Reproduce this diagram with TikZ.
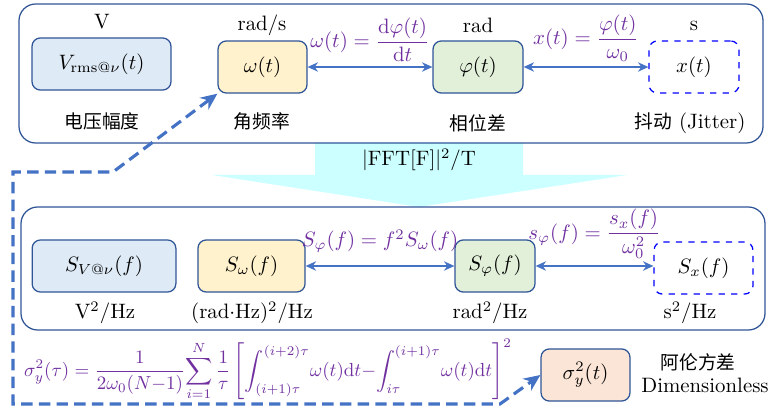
\documentclass[tikz,border=0pt]{standalone}
\usepackage{amsmath}
\usepackage{fontspec}
\newfontfamily\cjk[Scale=0.9]{Noto Sans CJK SC}
\usetikzlibrary{arrows.meta}
\definecolor{frameblue}{RGB}{47,85,151}
\definecolor{arrowblue}{RGB}{68,114,196}
\definecolor{eqpurple}{RGB}{112,48,160}
\definecolor{fillblue}{RGB}{222,235,247}
\definecolor{fillyellow}{RGB}{255,242,204}
\definecolor{fillgreen}{RGB}{226,240,217}
\definecolor{fillpeach}{RGB}{251,229,214}
\definecolor{fftcyan}{RGB}{204,255,255}

\begin{document}
\begin{tikzpicture}[x=0.48pt, y=-0.48pt,
	frame/.style={draw=frameblue, line width=0.6pt, rounded corners=8pt},
	qbox/.style={draw=frameblue, line width=0.6pt, rounded corners=4pt, minimum height=25pt, inner sep=2pt},
	jbox/.style={draw=blue, dashed, line width=0.6pt, rounded corners=4pt, minimum height=25pt, inner sep=2pt},
	link/.style={{Stealth[length=5pt,width=4.5pt]}-{Stealth[length=5pt,width=4.5pt]}, draw=arrowblue, line width=0.8pt},
	eq/.style={text=eqpurple, inner sep=1pt},
	jump/.style={{Stealth[length=8pt,width=7pt]}-{Stealth[length=8pt,width=7pt]}, draw=arrowblue, line width=1.5pt, dash pattern=on 5.5pt off 3pt}]
	
	\useasboundingbox (0,0) rectangle (771,410);
	
	% FFT arrow
	\fill[fftcyan] (315,143) -- (523,143) -- (523,175) -- (627,175) -- (419,207) -- (212,175) -- (315,175) -- cycle;
	\node (fft) at (419,160) {$|\mathrm{FFT[F]}|^2/\mathrm{T}$};
	
	% frames
	\draw[frame] (19,4) rectangle (763,143);
	\draw[frame] (21,207) rectangle (765,330);
	
	% time domain
	\node[qbox, fill=fillblue, minimum width=66.7pt] (vt) at (101.5,64) {$V_{\mathrm{rms}@\nu}(t)$};
	\node[qbox, fill=fillyellow, minimum width=42.7pt] (wt) at (262.5,67) {$\omega(t)$};
	\node[qbox, fill=fillgreen, minimum width=43.2pt] (pt) at (478,67) {$\varphi(t)$};
	\node[jbox, minimum width=43.2pt] (xt) at (694,67) {$x(t)$};
	
	\node (vtu) at (102,22) {V};
	\node (wtu) at (262,25) {rad/s};
	\node (ptu) at (478,25) {rad};
	\node (xtu) at (694,26) {s};
	\node (vtn) at (102,121) {\cjk 电压幅度};
	\node (wtn) at (262,121) {\cjk 角频率};
	\node (ptn) at (478,123) {\cjk 相位差};
	\node (xtn) at (690,123) {{\cjk 抖动} (Jitter)};
	
	\draw[link] (wt) -- (pt) node[midway, above=1pt, eq] {$\omega(t)=\dfrac{\mathrm{d}\varphi(t)}{\mathrm{d}t}$};
	\draw[link] (pt) -- (xt) node[midway, above=1pt, eq] {$x(t)=\dfrac{\varphi(t)}{\omega_0}$};
	
	% frequency domain
	\node[qbox, fill=fillblue, minimum width=69pt] (vf) at (104,266) {$S_{V@\nu}(f)$};
	\node[qbox, fill=fillyellow, minimum width=51.4pt] (wf) at (251.5,266) {$S_\omega(f)$};
	\node[qbox, fill=fillgreen, minimum width=38.4pt] (pf) at (495,266) {$S_\varphi(f)$};
	\node[jbox, minimum width=47.5pt] (xf) at (703.5,268) {$S_x(f)$};
	
	\node (vfu) at (105,313) {V$^2$/Hz};
	\node (wfu) at (252,313) {(rad$\cdot$Hz)$^2$/Hz};
	\node (pfu) at (490,313) {rad$^2$/Hz};
	\node (xfu) at (690,313) {s$^2$/Hz};
	
	\draw[link] (wf) -- (pf) node[midway, above=5pt, eq] {$S_\varphi(f)=f^2S_\omega(f)$};
	\draw[link] (pf.east) -- (xf.west |- pf.east) node[midway, above=2pt, eq] {$s_\varphi(f)=\dfrac{s_x(f)}{\omega_0^2}$};
	
	% Allan variance
	\node[eq, scale=0.91] (allan) at (268,370) {$\displaystyle\sigma_y^2(\tau)=\frac{1}{2\omega_0(N{-}1)}\!\sum_{i=1}^{N}\frac{1}{\tau}\left[\int_{(i+1)\tau}^{(i+2)\tau}\!\omega(t)\mathrm{d}t{-}\!\int_{i\tau}^{(i+1)\tau}\!\omega(t)\mathrm{d}t\right]^2$};
	\node[qbox, fill=fillpeach, minimum width=42.7pt] (sig) at (585.5,375) {$\sigma_y^2(t)$};
	\node (sign) at (698,362) {\cjk 阿伦方差};
	\node (sigu) at (705,385) {Dimensionless};
	
	\draw[jump] (wt.south west) -- (113,172) -- (13,172) -- (13,404) -- (500,404) -- (sig.west);
	
\end{tikzpicture}
\end{document}
